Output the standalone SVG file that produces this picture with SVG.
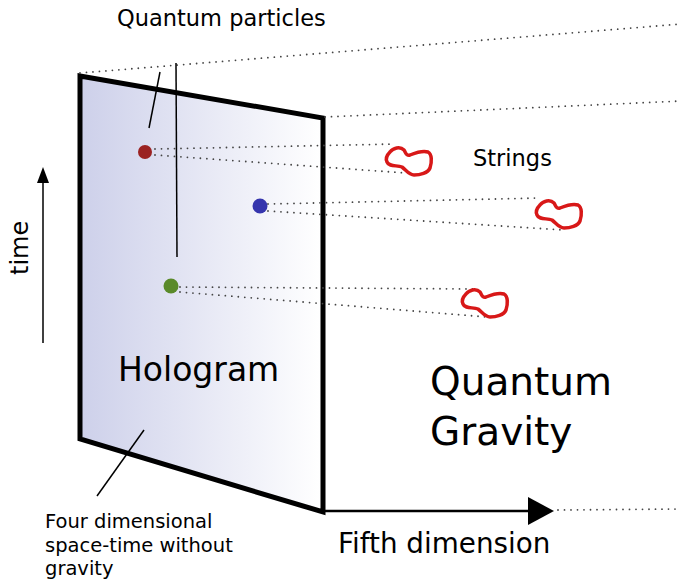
<svg xmlns="http://www.w3.org/2000/svg" width="681" height="581" viewBox="0 0 681 581">
<style>
  text { font-family: "DejaVu Sans", Verdana, sans-serif; fill: #000; }
  .dot { fill: none; stroke: #444; stroke-width: 1.8; stroke-dasharray: 0 6.5; stroke-linecap: round; }
  .ptr { fill: none; stroke: #000; stroke-width: 1.5; }
  .str { fill: none; stroke: #d81818; stroke-width: 3.5; stroke-linejoin: round; }
</style>
<defs>
  <linearGradient id="holo" x1="80" y1="0" x2="322" y2="0" gradientUnits="userSpaceOnUse">
    <stop offset="0" stop-color="#cdd0ea"/>
    <stop offset="1" stop-color="#ffffff"/>
  </linearGradient>
  <path id="loop" d="M6,6 C9,2 16,0 20,4 C22,7 22,10 26,9 C31,7 38,4 44,6 C48,8 48,16 46,22 C44,27 36,29 30,29 C25,29 22,24 18,21 C13,19 5,21 3,16 C1,12 3,9 6,6 Z"/>
</defs>

<g id="hologram">
  <polygon points="80,76 323,118 323,512 80,439" fill="url(#holo)" stroke="#000" stroke-width="5" stroke-linejoin="miter"/>
  <text x="118" y="381" font-size="33">Hologram</text>
</g>

<g id="connectors">
  <line class="dot" x1="80" y1="73" x2="681" y2="24"/>
  <line class="dot" x1="325" y1="117" x2="681" y2="101"/>
  <line class="dot" x1="155" y1="149" x2="395" y2="144"/>
  <line class="dot" x1="155" y1="155" x2="406" y2="173"/>
  <line class="dot" x1="268" y1="204" x2="540" y2="198"/>
  <line class="dot" x1="268" y1="211" x2="564" y2="230"/>
  <line class="dot" x1="180" y1="287" x2="475" y2="289"/>
  <line class="dot" x1="180" y1="292" x2="487" y2="317"/>
  <line class="dot" x1="558" y1="510" x2="681" y2="509"/>
  <line class="ptr" x1="160" y1="72" x2="149" y2="128"/>
  <line class="ptr" x1="176" y1="63" x2="177" y2="257"/>
  <line class="ptr" x1="144" y1="430" x2="97" y2="496"/>
  <line x1="43" y1="343" x2="43" y2="170" stroke="#000" stroke-width="1.5"/>
  <path d="M43,167 L49,183 L37,183 Z" fill="#000"/>
  <line x1="322" y1="511" x2="530" y2="511" stroke="#000" stroke-width="2.5"/>
  <path d="M528,497 L554,511 L528,525 Z" fill="#000"/>
</g>

<g id="particle-red"><circle cx="145" cy="152" r="7" fill="#9b2222"/></g>
<g id="particle-blue"><circle cx="260" cy="206" r="7.5" fill="#3535ad"/></g>
<g id="particle-green"><circle cx="171" cy="286" r="7.5" fill="#5a8a2a"/></g>

<g id="string-1"><use href="#loop" class="str" transform="translate(384,146)"/></g>
<g id="string-2"><use href="#loop" class="str" transform="translate(534,199)"/></g>
<g id="string-3"><use href="#loop" class="str" transform="translate(460,288)"/></g>

<g id="label-quantum-particles"><text x="117" y="26" font-size="22.5">Quantum particles</text></g>
<g id="label-strings"><text x="473" y="166" font-size="22.5">Strings</text></g>
<g id="label-time"><text transform="translate(28,275) rotate(-90)" font-size="24">time</text></g>
<g id="label-quantum-gravity">
  <text x="430" y="395" font-size="39">Quantum</text>
  <text x="430" y="445" font-size="39">Gravity</text>
</g>
<g id="label-fifth"><text x="338" y="553" font-size="27.8">Fifth dimension</text></g>
<g id="label-four">
  <text x="45" y="528" font-size="19.5">Four dimensional</text>
  <text x="45" y="552" font-size="19.5">space-time without</text>
  <text x="45" y="575" font-size="19.5">gravity</text>
</g>
</svg>
